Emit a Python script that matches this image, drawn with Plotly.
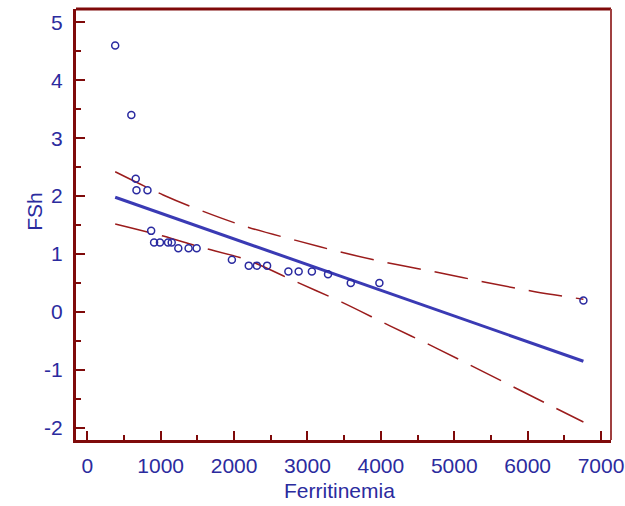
import plotly.graph_objects as go

# Data
ferritin = [380, 600, 660, 670, 820, 870, 910, 990, 1100, 1150, 1240, 1380, 1490,
            1970, 2200, 2310, 2450, 2740, 2880, 3060, 3280, 3590, 3980, 6760]
fsh = [4.6, 3.4, 2.3, 2.1, 2.1, 1.4, 1.2, 1.2, 1.2, 1.2, 1.1, 1.1, 1.1,
       0.9, 0.8, 0.8, 0.8, 0.7, 0.7, 0.7, 0.65, 0.5, 0.5, 0.2]

fit_x = [380, 6760]
fit_y = [1.98, -0.85]

band_x = [380, 1034, 1512, 2172, 2830, 3466, 4124, 4782, 5441, 6099, 6760]
upper_y = [2.42, 2.02, 1.77, 1.47, 1.24, 1.03, 0.84, 0.68, 0.51, 0.35, 0.22]
lower_y = [1.52, 1.31, 1.13, 0.90, 0.53, 0.17, -0.24, -0.64, -1.06, -1.48, -1.90]

x_ticks = [0, 1000, 2000, 3000, 4000, 5000, 6000, 7000]
y_ticks = [-2, -1, 0, 1, 2, 3, 4, 5]
y_tick_text = ["-2", "-1", "0", "1", "2", "3", "4", "5"]

x_title = "Ferritinemia"
y_title = "FSh"

AXIS = "#7f0a0a"
BLUE_TXT = "#2b2b9e"
BAND = "#9b1c1c"
FIT = "#3a3ab4"

fig = go.Figure()
fig.add_trace(go.Scatter(x=band_x, y=upper_y, mode="lines",
                         line=dict(color=BAND, width=1.5, dash="34px,14px"), line_shape="spline"))
fig.add_trace(go.Scatter(x=band_x, y=lower_y, mode="lines",
                         line=dict(color=BAND, width=1.5, dash="34px,14px"), line_shape="spline"))
fig.add_trace(go.Scatter(x=fit_x, y=fit_y, mode="lines",
                         line=dict(color=FIT, width=3)))
fig.add_trace(go.Scatter(x=ferritin, y=fsh, mode="markers",
                         marker=dict(symbol="circle-open", size=7, color="#2a2aa0",
                                     line=dict(width=1.5, color="#2a2aa0"))))

font = dict(family="Liberation Sans, Arial, sans-serif", size=21, color=BLUE_TXT)

fig.update_layout(
    width=625, height=506,
    margin=dict(l=76, r=14, t=9, b=66),
    paper_bgcolor="white", plot_bgcolor="white",
    showlegend=False,
    font=font,
    xaxis=dict(range=[-154, 7136], tickvals=x_ticks, showgrid=False, zeroline=False,
               automargin=False,
               showline=True, linecolor=AXIS, linewidth=3,
               ticks="inside", ticklen=9, tickwidth=2, tickcolor=AXIS,
               minor=dict(dtick=500, tick0=0, ticks="inside", ticklen=5, tickwidth=2, tickcolor=AXIS),
               tickfont=font, ticklabelstandoff=5),
    yaxis=dict(range=[-2.21, 5.23], tickvals=y_ticks, ticktext=y_tick_text,
               showgrid=False, zeroline=False, automargin=False,
               showline=True, linecolor=AXIS, linewidth=3,
               ticks="inside", ticklen=9, tickwidth=2, tickcolor=AXIS,
               minor=dict(dtick=0.5, tick0=0, ticks="inside", ticklen=5, tickwidth=2, tickcolor=AXIS),
               tickfont=font, ticklabelstandoff=6),
    shapes=[
        dict(type="line", xref="paper", yref="paper", x0=0, x1=1, y0=1, y1=1,
             line=dict(color=AXIS, width=3)),
        dict(type="line", xref="paper", yref="paper", x0=1, x1=1, y0=0, y1=1,
             line=dict(color="#a04040", width=2)),
    ],
    annotations=[
        dict(text=x_title, xref="paper", yref="paper", x=0.493, y=-0.118,
             xanchor="center", yanchor="middle", showarrow=False, font=font),
        dict(text=y_title, xref="paper", yref="paper", x=-0.078, y=0.53,
             xanchor="center", yanchor="middle", showarrow=False, font=font, textangle=-90),
    ],
)

fig.write_html("out.html")
